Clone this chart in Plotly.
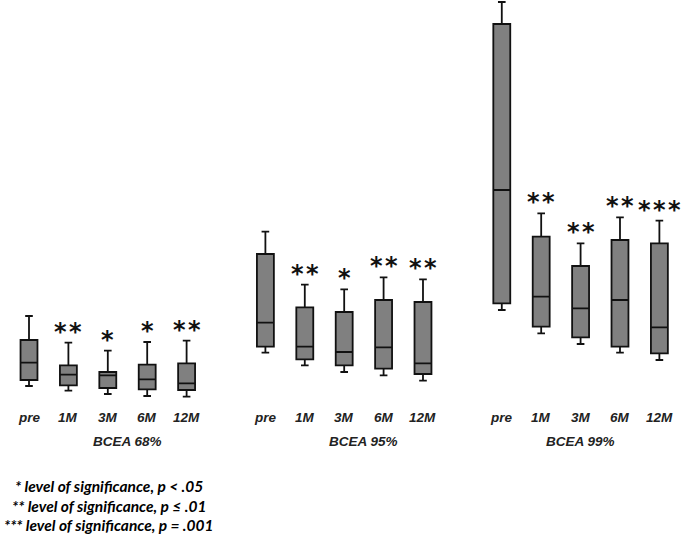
import plotly.graph_objects as go

# Categories and groups
timepoints = ["pre", "1M", "3M", "6M", "12M"]
groups = ["BCEA 68%", "BCEA 95%", "BCEA 99%"]

# Box statistics (arbitrary units), one list per group
lower_68 = [14, 9.3, 6, 4, 3.3]
q1_68 = [20, 14.7, 12, 10.7, 10]
median_68 = [37.3, 25.3, 24.7, 20.7, 16.7]
q3_68 = [60, 34.7, 28, 35.3, 36.7]
upper_68 = [84, 57.3, 49.3, 58, 59.3]

lower_95 = [47.3, 34.7, 28, 24.7, 19.3]
q1_95 = [53.3, 40.7, 34.7, 31.3, 26]
median_95 = [77.3, 53.3, 48, 52.7, 36.7]
q3_95 = [146, 92.7, 88, 100, 98]
upper_95 = [168.3, 115.3, 110.7, 122.7, 120.7]

lower_99 = [90, 66.7, 56, 47.3, 40]
q1_99 = [96.7, 73.3, 62.7, 53.3, 46.7]
median_99 = [210, 103.3, 91.7, 100, 72.7]
q3_99 = [376, 163.3, 134, 160, 156.7]
upper_99 = [398, 186.7, 156.7, 182.7, 179.3]

sig_68 = ["", "**", "*", "*", "**"]
sig_95 = ["", "**", "*", "**", "**"]
sig_99 = ["", "**", "**", "**", "***"]

legend_lines = [
    "* level of significance, p < .05",
    "** level of significance, p \u2264 .01",
    "*** level of significance, p = .001",
]

stats = [
    (lower_68, q1_68, median_68, q3_68, upper_68, sig_68),
    (lower_95, q1_95, median_95, q3_95, upper_95, sig_95),
    (lower_99, q1_99, median_99, q3_99, upper_99, sig_99),
]

group_label_shift = [0.5, 0.5, 0.0]

fig = go.Figure()
annotations = []
label_font = dict(family="Liberation Sans, Arial", size=13.5, color="#222222")

for gi, (lo, q1, med, q3, up, sig) in enumerate(stats):
    xs = [gi * 6 + i for i in range(len(timepoints))]
    fig.add_trace(go.Box(
        x=xs, lowerfence=lo, q1=q1, median=med, q3=q3, upperfence=up,
        width=0.43, whiskerwidth=0.45,
        fillcolor="#808080", line=dict(color="#111111", width=1.8),
        boxpoints=False, showlegend=False, hoverinfo="skip",
    ))
    for i, x in enumerate(xs):
        annotations.append(dict(
            x=x, y=-17, xref="x", yref="y", text="<b><i>%s</i></b>" % timepoints[i],
            showarrow=False, font=label_font, xanchor="center", yanchor="middle"))
        if sig[i]:
            annotations.append(dict(
                x=x, y=up[i] + 15, xref="x", yref="y", text="<b>%s</b>" % "\u200a".join(sig[i]),
                showarrow=False, font=dict(family="DejaVu Sans", size=24, color="#111111"),
                xanchor="center", yanchor="middle", yshift=-4))
    annotations.append(dict(
        x=gi * 6 + 2 + group_label_shift[gi], y=-41, xref="x", yref="y",
        text="<b><i>%s</i></b>" % groups[gi],
        showarrow=False, font=label_font, xanchor="center", yanchor="middle"))

for li, line in enumerate(legend_lines):
    annotations.append(dict(
        x=109, y=486 + li * 19.5, xref="paper", yref="paper", text="<b><i>%s</i></b>" % line,
        showarrow=False, font=dict(family="Lato, Open Sans", size=15.5, color="#000000"),
        xanchor="center", yanchor="middle"))

# convert legend pixel positions into paper coordinates
for a in annotations:
    if a["xref"] == "paper":
        a["x"] = a["x"] / 685
        a["y"] = 1 - a["y"] / 536

fig.update_layout(
    width=685, height=536,
    margin=dict(l=0, r=0, t=0, b=0),
    paper_bgcolor="white", plot_bgcolor="white",
    xaxis=dict(range=[-0.736, 16.65], visible=False, fixedrange=True),
    yaxis=dict(range=[-136, 400], visible=False, fixedrange=True),
    annotations=annotations,
    showlegend=False,
)

fig.write_html("out.html", config={"displayModeBar": False},
               post_script="document.body.style.margin='0';document.body.style.overflow='hidden';")
